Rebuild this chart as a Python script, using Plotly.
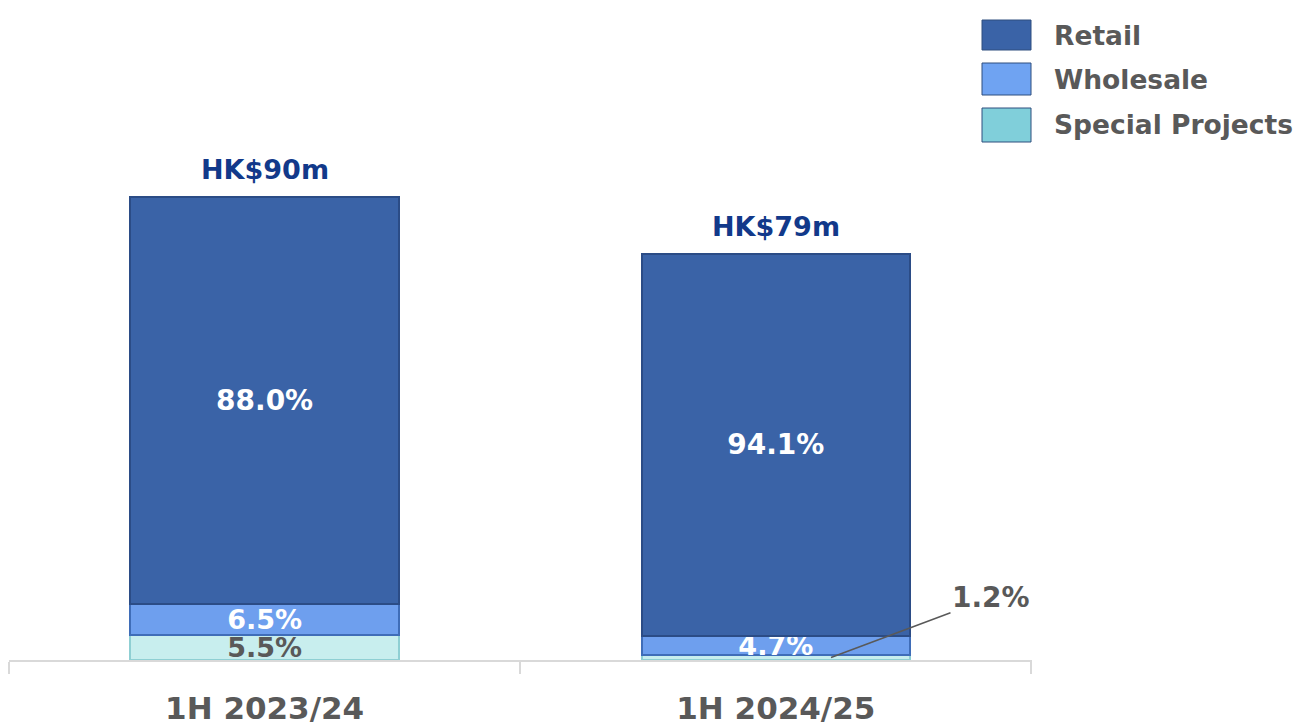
import plotly.graph_objects as go

# ---- data ----
periods = ["1H 2023/24", "1H 2024/25"]
totals = [90, 79]                      # HK$m
retail_pct = [88.0, 94.1]
wholesale_pct = [6.5, 4.7]
special_pct = [5.5, 1.2]
total_labels = ["HK$90m", "HK$79m"]
series_names = ["Retail", "Wholesale", "Special Projects"]

# segment values in HK$m
retail_val = [t * p / 100 for t, p in zip(totals, retail_pct)]
wholesale_val = [t * p / 100 for t, p in zip(totals, wholesale_pct)]
special_val = [t * p / 100 for t, p in zip(totals, special_pct)]

FONT = "DejaVu Sans"
GRAY = "#595959"
BLUE_TXT = "#12398A"
C_RETAIL = "#3A63A7"
C_WHOLE = "#6E9FEE"
C_SPECIAL = "#C8EEEE"
LEG_COLORS = ["#3A63A7", "#6FA3F2", "#80CFDA"]

W, H = 1300, 727
L, R, T, B = 9, 268, 146, 67
PW, PH = W - L - R, H - T - B


def px(x):
    return (x - L) / PW


def py(y):
    return (H - B - y) / PH


fig = go.Figure()

fig.add_trace(go.Bar(
    x=periods, y=special_val, name=series_names[2],
    marker=dict(color=C_SPECIAL, line=dict(color="#8FCFD3", width=2)),
    text=[f"{special_pct[0]:.1f}%", ""], textposition="inside",
    insidetextanchor="middle", constraintext="none",
    textfont=dict(family=FONT, size=27, color=GRAY, weight="bold"),
    showlegend=False,
))
fig.add_trace(go.Bar(
    x=periods, y=wholesale_val, name=series_names[1],
    marker=dict(color=C_WHOLE, line=dict(color="#3F6DB8", width=2)),
    text=[f"{v:.1f}%" for v in wholesale_pct], textposition="inside",
    insidetextanchor="middle", constraintext="none",
    textfont=dict(family=FONT, size=27, color="white", weight="bold"),
    showlegend=False,
))
fig.add_trace(go.Bar(
    x=periods, y=retail_val, name=series_names[0],
    marker=dict(color=C_RETAIL, line=dict(color="#2B4C86", width=2)),
    text=[f"{v:.1f}%" for v in retail_pct], textposition="inside",
    insidetextanchor="middle", constraintext="none",
    textfont=dict(family=FONT, size=28, color="white", weight="bold"),
    showlegend=False,
))

annotations = []
# totals above bars
for p, t, lab in zip(periods, totals, total_labels):
    annotations.append(dict(
        x=p, y=t, xref="x", yref="y", text=f"<b>{lab}</b>", showarrow=False,
        yanchor="bottom", yshift=10,
        font=dict(family=FONT, size=27, color=BLUE_TXT),
    ))
# leader label for small special-projects share
annotations.append(dict(
    x=1.108, y=special_val[1] / 2, xref="x", yref="y",
    text=f"<b>{special_pct[1]:.1f}%</b>", showarrow=True, arrowhead=0,
    arrowwidth=1.5, arrowcolor=GRAY, ax=160, ay=-60,
    font=dict(family=FONT, size=28, color=GRAY),
))

# custom legend
shapes = []
leg_y = [(20, 50), (63, 95), (108, 142)]
for name, col, (y0, y1) in zip(series_names, LEG_COLORS, leg_y):
    shapes.append(dict(type="rect", xref="paper", yref="paper",
                       x0=px(982), x1=px(1031), y0=py(y1), y1=py(y0),
                       fillcolor=col, line=dict(color="#2F4F7F", width=1)))
    annotations.append(dict(x=px(1052), y=py((y0 + y1) / 2), xref="paper", yref="paper",
                            text=f"<b>{name}</b>", showarrow=False, xanchor="left",
                            yanchor="middle",
                            font=dict(family=FONT, size=26.5, color=GRAY)))

fig.update_layout(
    barmode="stack", bargap=0.475,
    width=W, height=H,
    margin=dict(l=L, r=R, t=T, b=B, autoexpand=False),
    plot_bgcolor="white", paper_bgcolor="white",
    annotations=annotations, shapes=shapes,
    xaxis=dict(showline=True, linecolor="#D9D9D9", linewidth=1.5,
               ticks="outside", tickson="boundaries", ticklen=12,
               tickcolor="#D9D9D9", tickwidth=1.5, ticklabelstandoff=20,
               tickfont=dict(family=FONT, size=31, color=GRAY, weight="bold")),
    yaxis=dict(range=[0, 100], visible=False, showgrid=False, zeroline=False),
)

fig.write_html("out.html")
